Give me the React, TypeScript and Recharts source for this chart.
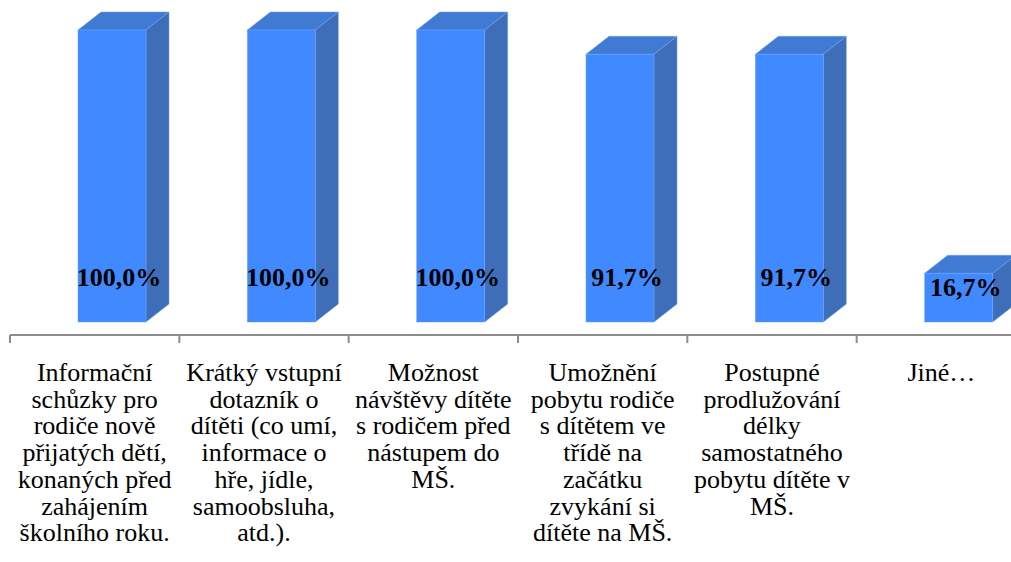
import { Bar, BarChart, LabelList, XAxis, YAxis } from "recharts";

const categories = [
  "Informační\nschůzky pro\nrodiče nově\npřijatých dětí,\nkonaných před\nzahájením\nškolního roku.",
  "Krátký vstupní\ndotazník o\ndítěti (co umí,\ninformace o\nhře, jídle,\nsamoobsluha,\natd.).",
  "Možnost\nnávštěvy dítěte\ns rodičem před\nnástupem do\nMŠ.",
  "Umožnění\npobytu rodiče\ns dítětem ve\ntřídě na\nzačátku\nzvykání si\ndítěte na MŠ.",
  "Postupné\nprodlužování\ndélky\nsamostatného\npobytu dítěte v\nMŠ.",
  "Jiné…",
];

const shares = [100, 100, 100, 91.7, 91.7, 16.7];

const data = categories.map((name, i) => ({ name, value: shares[i] }));

const FONT = "Liberation Serif";
const CHART_W = 1026;
const CHART_H = 562;
const MARGIN_LEFT = 10;
const BAND = (CHART_W - MARGIN_LEFT) / categories.length;
const DEPTH_X = 23;
const DEPTH_Y = 18;
const FACE_SHIFT = 17;
const FLOOR = -4.45;

const COLORS = {
  front: "#4189fe",
  top: "#417ad2",
  side: "#3e6eb8",
  edge: "#6aa2ff",
  axis: "#8c8c8c",
};

function Bar3D(props: any) {
  const { x, y, width, height } = props;
  if (height <= 0) return null;
  const x0 = x + FACE_SHIFT;
  const x1 = x0 + width;
  const y1 = y + height;
  return (
    <g>
      <polygon
        points={`${x0},${y} ${x0 + DEPTH_X},${y - DEPTH_Y} ${x1 + DEPTH_X},${y - DEPTH_Y} ${x1},${y}`}
        fill={COLORS.top}
        stroke={COLORS.edge}
        strokeWidth={0.5}
      />
      <polygon
        points={`${x1},${y} ${x1 + DEPTH_X},${y - DEPTH_Y} ${x1 + DEPTH_X},${y1 - DEPTH_Y} ${x1},${y1}`}
        fill={COLORS.side}
        stroke={COLORS.edge}
        strokeWidth={0.5}
      />
      <rect x={x0} y={y} width={width} height={height} fill={COLORS.front} stroke={COLORS.edge} strokeWidth={0.5} />
    </g>
  );
}

function ValueLabel(props: any) {
  const { x, y, width, height, value } = props;
  const base = y + height;
  const baseline = Math.max(base - 36, y + 23);
  return (
    <text
      x={x + width / 2 + 24}
      y={baseline}
      textAnchor="middle"
      fontFamily={FONT}
      fontWeight="bold"
      fontSize={26}
      fill="#000"
    >
      {`${Number(value).toFixed(1).replace(".", ",")}%`}
    </text>
  );
}

function CategoryTick(props: any) {
  const { x, y, payload } = props;
  const lines = String(payload.value).split("\n");
  return (
    <g>
      <line x1={x - BAND / 2} y1={y} x2={x - BAND / 2} y2={y + 8} stroke={COLORS.axis} strokeWidth={2} />
      <text x={x} y={y + 46} textAnchor="middle" fontFamily={FONT} fontSize={26} fill="#000">
        {lines.map((line, i) => (
          <tspan key={i} x={x} dy={i === 0 ? 0 : 26.7}>
            {line}
          </tspan>
        ))}
      </text>
    </g>
  );
}

export default function App() {
  return (
    <div style={{ position: "absolute", left: 0, top: 0, width: 1011, height: CHART_H, overflow: "hidden", background: "#fff" }}>
      <BarChart
        width={CHART_W}
        height={CHART_H}
        data={data}
        margin={{ top: 30, right: 0, left: MARGIN_LEFT, bottom: 0 }}
        barSize={68}
      >
        <XAxis
          dataKey="name"
          interval={0}
          height={227}
          tickLine={false}
          tickSize={0}
          tickMargin={0}
          axisLine={{ stroke: COLORS.axis, strokeWidth: 2 }}
          tick={<CategoryTick />}
        />
        <YAxis hide domain={[FLOOR, 100]} />
        <Bar dataKey="value" shape={<Bar3D />} isAnimationActive={false}>
          <LabelList dataKey="value" content={<ValueLabel />} />
        </Bar>
      </BarChart>
    </div>
  );
}
